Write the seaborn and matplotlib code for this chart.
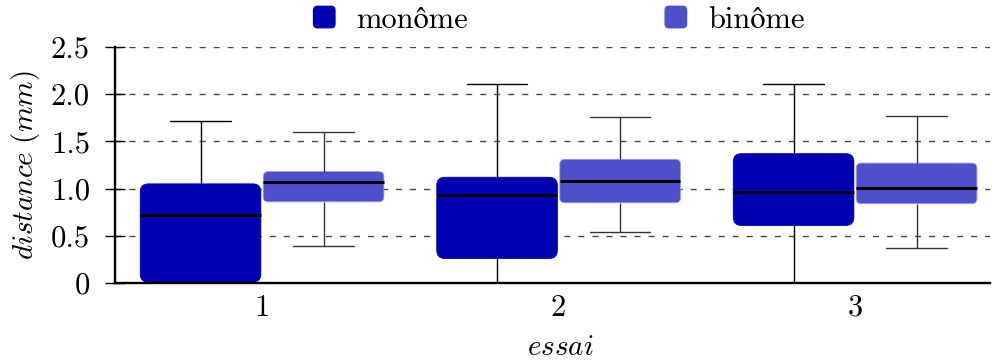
import pandas as pd
import seaborn as sns
import matplotlib.pyplot as plt
from matplotlib.patches import FancyBboxPatch, Patch
from matplotlib.legend_handler import HandlerPatch

essais = ['1', '2', '3']
groupes = ['monôme', 'binôme']
couleurs = ['#0000b3', '#4f4fcc']

# five-number summary (min, q1, median, q3, max)
mono_min = [0.0, 0.0, 0.0]
mono_q1 = [0.01, 0.26, 0.61]
mono_med = [0.72, 0.93, 0.96]
mono_q3 = [1.05, 1.12, 1.37]
mono_max = [1.72, 2.11, 2.11]

bi_min = [0.39, 0.54, 0.37]
bi_q1 = [0.86, 0.85, 0.84]
bi_med = [1.07, 1.08, 1.01]
bi_q3 = [1.18, 1.31, 1.27]
bi_max = [1.60, 1.76, 1.77]

yticks = [0, 0.5, 1.0, 1.5, 2.0, 2.5]
ytick_labels = ['0', '0.5', '1.0', '1.5', '2.0', '2.5']

rows = []
for i, e in enumerate(essais):
    for v in (mono_min[i], mono_q1[i], mono_med[i], mono_q3[i], mono_max[i]):
        rows.append((e, groupes[0], v))
    for v in (bi_min[i], bi_q1[i], bi_med[i], bi_q3[i], bi_max[i]):
        rows.append((e, groupes[1], v))
df = pd.DataFrame(rows, columns=['essai', 'groupe', 'distance'])

sns.set_style('ticks')
plt.rcParams['font.family'] = ['cmr10', 'STIXGeneral']
plt.rcParams['mathtext.fontset'] = 'cm'
plt.rcParams['axes.unicode_minus'] = False
plt.rcParams['text.color'] = 'black'
plt.rcParams['axes.labelcolor'] = 'black'
plt.rcParams['xtick.color'] = 'black'
plt.rcParams['ytick.color'] = 'black'

W, H = 993, 360
fig = plt.figure(figsize=(W / 100, H / 100), dpi=100)
ax = fig.add_axes([115 / W, 77 / H, 875 / W, 236 / H])

sns.boxplot(data=df, x='essai', y='distance', hue='groupe', order=essais,
            hue_order=groupes, palette=couleurs, saturation=1, width=0.83,
            gap=0.02, whis=(0, 100), linecolor='black', linewidth=1,
            medianprops=dict(color='black', linewidth=2.2),
            legend=False, ax=ax)

ax.set_xlim(-0.496, 2.455)
ax.set_ylim(0, 2.5)

# rounded boxes like the pgfplots original
px_x = 875 / (2.455 + 0.496)
px_y = 236 / 2.5
aspect = px_x / px_y
for p in list(ax.patches):
    verts = p.get_path().vertices
    x0, y0 = verts.min(axis=0)
    x1, y1 = verts.max(axis=0)
    fc = p.get_facecolor()
    is_mono = fc[2] < 0.75
    p.remove()
    r = (8 if is_mono else 5) / px_x
    box = FancyBboxPatch((x0, y0), x1 - x0, y1 - y0,
                         boxstyle=f'round,pad=0,rounding_size={r}',
                         mutation_aspect=aspect, facecolor=fc,
                         edgecolor=fc if is_mono else '#9a9ae0',
                         linewidth=0.6, zorder=1.5)
    ax.add_patch(box)

for ln in ax.lines:
    ln.set_zorder(2.5)
    xs = ln.get_xdata()
    if ln.get_linewidth() < 2 and len(xs):
        xm = sum(xs) / len(xs)
        if xm > round(xm):
            ln.set_color('#333333')

ax.set_axisbelow(True)
ax.grid(axis='y', color='#444444', linewidth=1, dashes=(4.3, 5.8))
ax.grid(axis='x', visible=False)
for s in ['top', 'right']:
    ax.spines[s].set_visible(False)
for s in ['left', 'bottom']:
    ax.spines[s].set_linewidth(1.7)
    ax.spines[s].set_color('black')

ax.set_yticks(yticks, ytick_labels)
ax.tick_params(axis='y', direction='inout', length=15, width=1, pad=10.5,
               labelsize=22)
ax.tick_params(axis='x', length=0, pad=8, labelsize=22)

ax.set_xlabel(r'$essai$', fontsize=21)
ax.set_ylabel(r'$distance\ (mm)$', fontsize=21)
ax.xaxis.set_label_coords((560 - 115) / 875, -0.22)
ax.yaxis.set_label_coords((42 - 115) / 875, 0.5)


def rounded_handle(legend, orig_handle, xdescent, ydescent, width, height, fontsize):
    return FancyBboxPatch((-xdescent, -ydescent), width, height,
                          boxstyle=f'round,pad=0,rounding_size={0.18 * height}')


handles = [Patch(facecolor=c, edgecolor=c) for c in couleurs]
fig.legend(handles=handles, labels=groupes, loc='center',
           bbox_to_anchor=(559 / W, 1 - 20 / H), ncol=2, frameon=False,
           fontsize=22, handlelength=0.7, handleheight=0.7,
           handletextpad=0.7, columnspacing=6.45,
           handler_map={Patch: HandlerPatch(patch_func=rounded_handle)})

fig.savefig('out.png', dpi=100)
